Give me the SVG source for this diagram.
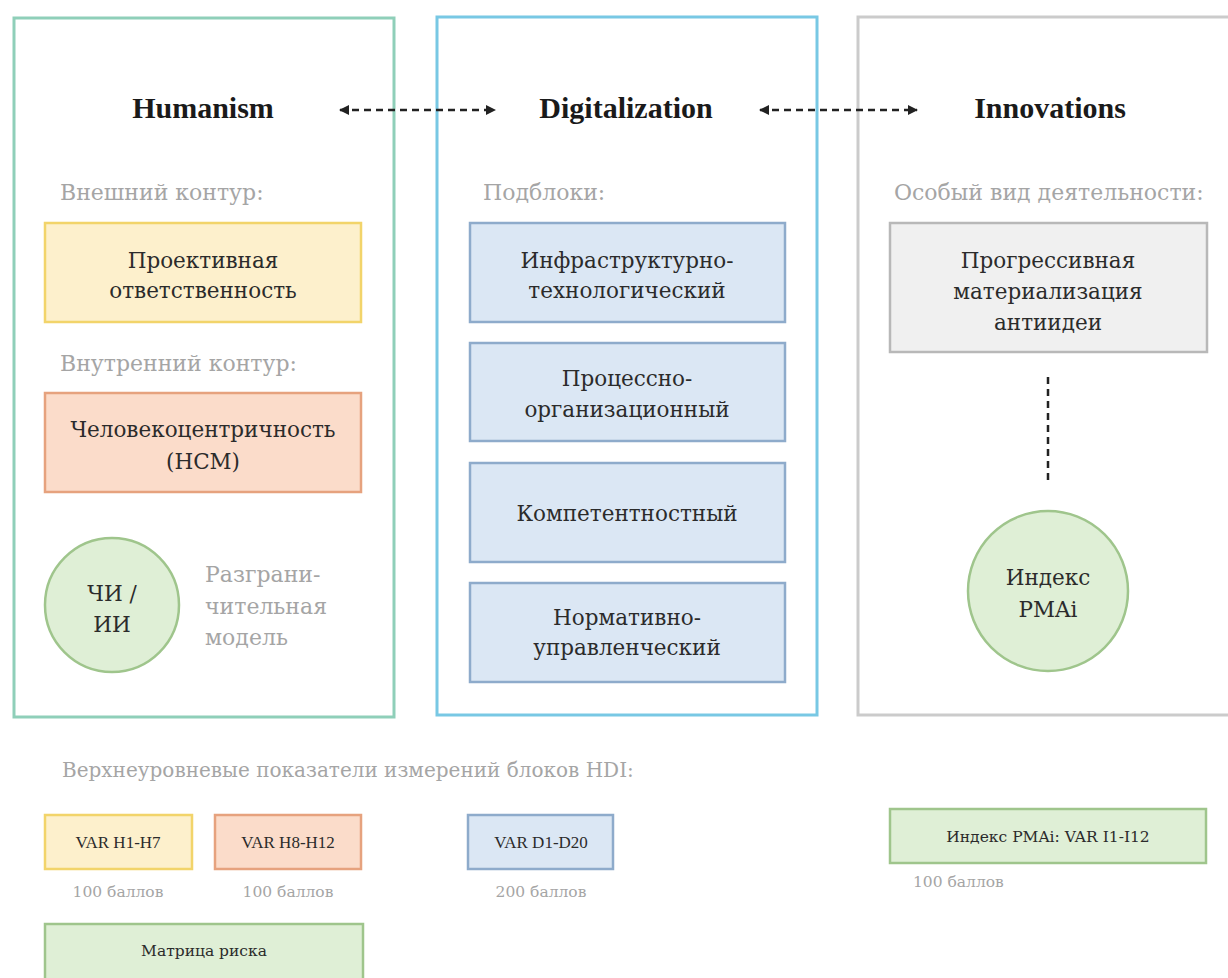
<svg xmlns="http://www.w3.org/2000/svg" width="1228" height="978" viewBox="0 0 1228 978">
<defs>
<style>
text{font-family:"DejaVu Serif","Liberation Serif",serif}
.cont{fill:#ffffff;stroke-width:3}
.title{font-family:"Liberation Serif",serif;font-weight:bold;font-size:30px;fill:#1a1a1a;text-anchor:middle}
.lbl{font-size:22px;fill:#a5a5a5}
.head{font-size:20px;fill:#a5a5a5}
.bt{font-size:21.5px;fill:#2b2b2b;text-anchor:middle}
.st{font-size:15.5px;fill:#2b2b2b;text-anchor:middle}
.stl{font-family:"Liberation Serif",serif;font-size:17px;fill:#2b2b2b;text-anchor:middle}
.pts{font-size:15.5px;fill:#a5a5a5}
.yel{fill:#fdf0cc;stroke:#f2d46a;stroke-width:2.5}
.org{fill:#fbdcca;stroke:#e6a27e;stroke-width:2.5}
.blu{fill:#dbe7f4;stroke:#8eabcb;stroke-width:2.5}
.gry{fill:#f0f0f0;stroke:#b8b8b8;stroke-width:2.5}
.grn{fill:#dfefd6;stroke:#9fc58c;stroke-width:2.5}
.dash{stroke:#222;stroke-width:2.5;stroke-dasharray:7 5;fill:none}
</style>
<marker id="ah" viewBox="0 0 10 10" refX="9" refY="5" markerWidth="4" markerHeight="4" orient="auto-start-reverse" markerUnits="strokeWidth">
<path d="M0,0 L10,5 L0,10 z" fill="#222"/>
</marker>
</defs>

<g id="humanism">
<rect class="cont" x="14" y="18" width="380" height="699" stroke="#8fcfb9"/>
<text class="title" x="203" y="118">Humanism</text>
<text class="lbl" x="60" y="200">Внешний контур:</text>
<text class="lbl" x="60" y="371">Внутренний контур:</text>
</g>
<g id="node-proj">
<rect class="yel" x="45" y="223" width="316" height="99"/>
<text class="bt" x="203" y="268">Проективная</text>
<text class="bt" x="203" y="298">ответственность</text>
</g>
<g id="node-hcm">
<rect class="org" x="45" y="393" width="316" height="99"/>
<text class="bt" x="203" y="437">Человекоцентричность</text>
<text class="bt" x="203" y="469">(HCM)</text>
</g>
<g id="node-chi">
<circle class="grn" cx="112" cy="605" r="67"/>
<text class="bt" x="112" y="601">ЧИ /</text>
<text class="bt" x="112" y="632">ИИ</text>
<text class="lbl" x="205" y="582">Разграни-</text>
<text class="lbl" x="205" y="614">чительная</text>
<text class="lbl" x="205" y="645">модель</text>
</g>

<g id="digitalization">
<rect class="cont" x="437" y="17" width="380" height="698" stroke="#78c8e4"/>
<text class="title" x="626" y="118">Digitalization</text>
<text class="lbl" x="483" y="200">Подблоки:</text>
</g>
<g id="node-d1">
<rect class="blu" x="470" y="223" width="315" height="99"/>
<text class="bt" x="627" y="268">Инфраструктурно-</text>
<text class="bt" x="627" y="298">технологический</text>
</g>
<g id="node-d2">
<rect class="blu" x="470" y="343" width="315" height="98"/>
<text class="bt" x="627" y="386">Процессно-</text>
<text class="bt" x="627" y="417">организационный</text>
</g>
<g id="node-d3">
<rect class="blu" x="470" y="463" width="315" height="99"/>
<text class="bt" x="627" y="521">Компетентностный</text>
</g>
<g id="node-d4">
<rect class="blu" x="470" y="583" width="315" height="99"/>
<text class="bt" x="627" y="625">Нормативно-</text>
<text class="bt" x="627" y="655">управленческий</text>
</g>

<g id="innovations">
<rect class="cont" x="858" y="17" width="380" height="698" stroke="#cbcbcb"/>
<text class="title" x="1050" y="118">Innovations</text>
<text class="lbl" x="894" y="200">Особый вид деятельности:</text>
</g>
<g id="node-pma">
<rect class="gry" x="890" y="223" width="317" height="129"/>
<text class="bt" x="1048" y="268">Прогрессивная</text>
<text class="bt" x="1048" y="299">материализация</text>
<text class="bt" x="1048" y="330">антиидеи</text>
</g>
<g id="node-pmai">
<circle class="grn" cx="1048" cy="591" r="80"/>
<text class="bt" x="1048" y="585">Индекс</text>
<text class="bt" x="1048" y="617">PMAi</text>
</g>

<g id="connectors">
<line class="dash" x1="340" y1="110" x2="495" y2="110" marker-start="url(#ah)" marker-end="url(#ah)"/>
<line class="dash" x1="760" y1="110" x2="917" y2="110" marker-start="url(#ah)" marker-end="url(#ah)"/>
<line class="dash" x1="1048" y1="377" x2="1048" y2="485"/>
</g>

<g id="legend">
<text class="head" x="62" y="777">Верхнеуровневые показатели измерений блоков HDI:</text>
</g>
<g id="var-h1">
<rect class="yel" x="45" y="815" width="147" height="54"/>
<text class="stl" x="118" y="848">VAR H1-H7</text>
<text class="pts" x="118" y="897" text-anchor="middle">100 баллов</text>
</g>
<g id="var-h8">
<rect class="org" x="215" y="815" width="146" height="54"/>
<text class="stl" x="288" y="848">VAR H8-H12</text>
<text class="pts" x="288" y="897" text-anchor="middle">100 баллов</text>
</g>
<g id="var-d">
<rect class="blu" x="468" y="815" width="145" height="54"/>
<text class="stl" x="541" y="848">VAR D1-D20</text>
<text class="pts" x="541" y="897" text-anchor="middle">200 баллов</text>
</g>
<g id="var-i">
<rect class="grn" x="890" y="809" width="316" height="54"/>
<text class="st" x="1048" y="842">Индекс PMAi: VAR I1-I12</text>
<text class="pts" x="913" y="887">100 баллов</text>
</g>
<g id="risk">
<rect class="grn" x="45" y="924" width="318" height="64"/>
<text class="st" x="204" y="956">Матрица риска</text>
</g>
</svg>
